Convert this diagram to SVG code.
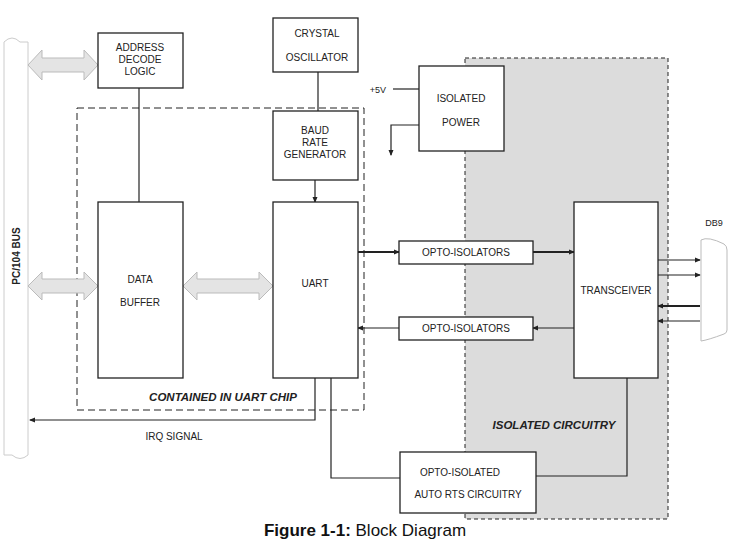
<svg xmlns="http://www.w3.org/2000/svg" width="731" height="558" viewBox="0 0 731 558">
<defs>
<style>
text{font-family:"Liberation Sans",Arial,sans-serif;font-size:10px;fill:#222}
.b{fill:#fff;stroke:#222;stroke-width:1.3}
.l{fill:none;stroke:#222;stroke-width:1.2}
.t{stroke-width:2.2}
.da{fill:#e4e4e4;stroke:#bbb;stroke-width:1}
.bi{font-weight:bold;font-style:italic;font-size:11.5px}
</style>
<marker id="a" markerWidth="6" markerHeight="6" refX="5" refY="3" orient="auto" markerUnits="userSpaceOnUse"><path d="M0,0.5L6,3L0,5.5z" fill="#222"/></marker>
</defs>
<rect x="465" y="58" width="203" height="461" fill="#dcdcdc" stroke="#222" stroke-dasharray="4,3"/>
<g id="bus"><path d="M4,42 Q12,34 20,42 L28,42 L28,455 Q20,462 12,455 L4,455 Z" fill="#fff" stroke="#ccc"/>
<text transform="translate(20,256) rotate(-90)" text-anchor="middle" font-weight="bold" style="font-size:10px">PC/104 BUS</text></g>
<g id="chip"><rect x="77" y="108" width="287" height="302" fill="none" stroke="#222" stroke-dasharray="7,4"/>
<text x="223" y="401" text-anchor="middle" class="bi">CONTAINED IN UART CHIP</text></g>
<text x="554" y="429" text-anchor="middle" class="bi">ISOLATED CIRCUITRY</text>
<g id="connectors">
<path class="da" d="M28,65 L42,50 L42,58 L84,58 L84,50 L98,65 L84,80 L84,72 L42,72 L42,80 Z"/>
<path class="da" d="M28,286 L42,272 L42,279 L84,279 L84,272 L98,286 L84,300 L84,293 L42,293 L42,300 Z"/>
<path class="da" d="M183,286 L197,272 L197,279 L259,279 L259,272 L273,286 L259,300 L259,293 L197,293 L197,300 Z"/>
<path class="l" d="M139,88V202"/>
<path class="l" d="M318,72V111"/>
<path class="l" d="M315,180V202" marker-end="url(#a)"/>
<path class="l" d="M393,89H419"/>
<path class="l" d="M419,125H391V155" marker-end="url(#a)"/>
<path class="l t" d="M358,252H399" marker-end="url(#a)"/>
<path class="l t" d="M533,252H574" marker-end="url(#a)"/>
<path class="l" d="M399,328H358" marker-end="url(#a)"/>
<path class="l" d="M574,328H533" marker-end="url(#a)"/>
<path class="l" d="M658,260H700" marker-end="url(#a)"/>
<path class="l" d="M658,275H700" marker-end="url(#a)"/>
<path class="l t" d="M700,306H658" marker-end="url(#a)"/>
<path class="l" d="M700,321H658" marker-end="url(#a)"/>
<path class="l" d="M315,378V420H30" marker-end="url(#a)"/>
<path class="l" d="M331,378V478H400"/>
<path class="l" d="M536,476H627V378"/>
</g>
<g id="addr"><rect class="b" x="98" y="33" width="85" height="55"/><text x="140" y="51" text-anchor="middle">ADDRESS</text><text x="140" y="63" text-anchor="middle">DECODE</text><text x="140" y="75" text-anchor="middle">LOGIC</text></g>
<g id="xtal"><rect class="b" x="273" y="18" width="85" height="54"/><text x="317" y="37" text-anchor="middle">CRYSTAL</text><text x="317" y="61" text-anchor="middle">OSCILLATOR</text></g>
<g id="baud"><rect class="b" x="273" y="111" width="85" height="69"/><text x="315" y="134" text-anchor="middle">BAUD</text><text x="315" y="146" text-anchor="middle">RATE</text><text x="315" y="158" text-anchor="middle">GENERATOR</text></g>
<g id="buf"><rect class="b" x="98" y="202" width="85" height="176"/><text x="140" y="283" text-anchor="middle">DATA</text><text x="140" y="306" text-anchor="middle">BUFFER</text></g>
<g id="uart"><rect class="b" x="273" y="202" width="85" height="176"/><text x="315" y="287" text-anchor="middle">UART</text></g>
<g id="pwr"><rect class="b" x="419" y="66" width="85" height="85"/><text x="461" y="102" text-anchor="middle">ISOLATED</text><text x="461" y="126" text-anchor="middle">POWER</text></g>
<text x="378" y="93" text-anchor="middle" style="font-size:9px">+5V</text>
<g id="opto1"><rect class="b" x="399" y="241" width="134" height="23"/><text x="466" y="256" text-anchor="middle">OPTO-ISOLATORS</text></g>
<g id="opto2"><rect class="b" x="399" y="317" width="134" height="23"/><text x="466" y="332" text-anchor="middle">OPTO-ISOLATORS</text></g>
<g id="xcvr"><rect class="b" x="574" y="202" width="84" height="176"/><text x="616" y="294" text-anchor="middle">TRANSCEIVER</text></g>
<g id="db9"><path d="M701,240 Q708,236 724,244 Q727,246 727,250 L727,330 Q727,333 724,334 Q708,340 701,341 Z" fill="#fff" stroke="#bbb"/><text x="714" y="226" text-anchor="middle" style="font-size:9px">DB9</text></g>
<g id="rts"><rect class="b" x="400" y="452" width="136" height="61"/><text x="460" y="476" text-anchor="middle">OPTO-ISOLATED</text><text x="468" y="498" text-anchor="middle">AUTO RTS CIRCUITRY</text></g>
<text x="174" y="440" text-anchor="middle">IRQ SIGNAL</text>
<text x="365" y="536" text-anchor="middle" style="font-size:17px;fill:#111"><tspan font-weight="bold">Figure 1-1:</tspan> Block Diagram</text>
</svg>
